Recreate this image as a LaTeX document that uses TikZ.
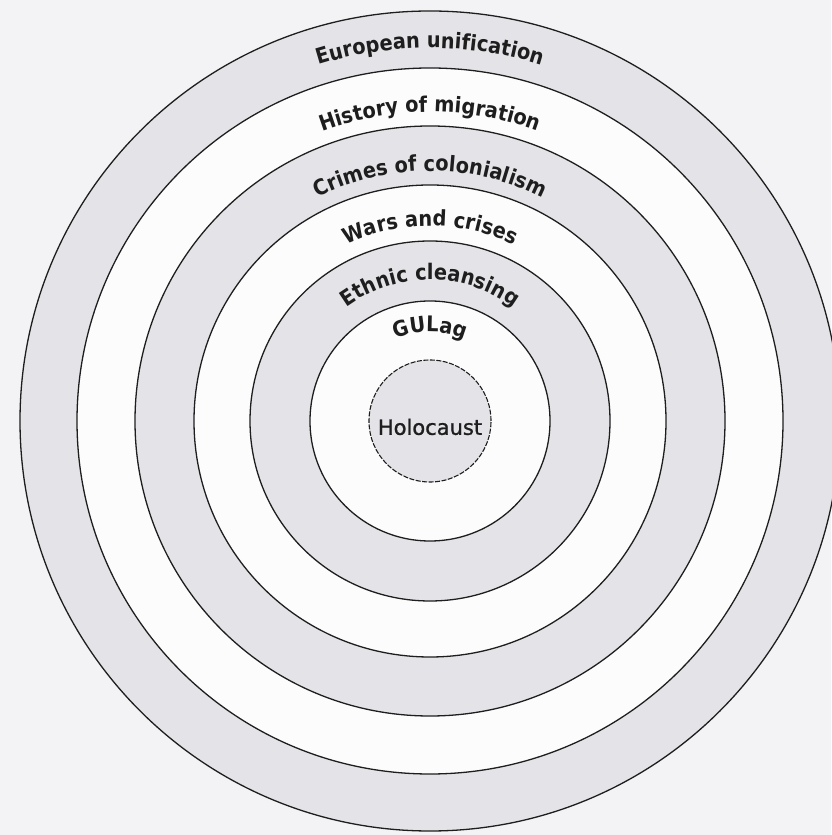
\documentclass[tikz,border=0pt]{standalone}
\usepackage{fontspec}
\setmainfont{DejaVu Sans}
\newfontfamily\ringfam{DejaVu Sans}[FakeStretch=0.9]
\newfontfamily\holofam{DejaVu Sans}[FakeBold=1.2]
\usetikzlibrary{decorations.text}
\definecolor{bandgray}{HTML}{E4E4E8}
\definecolor{paper}{HTML}{F3F3F5}
\definecolor{whiteband}{HTML}{FCFCFC}
\definecolor{ink}{HTML}{1E1E1E}
\newcommand\ringfont{\ringfam\fontsize{21.5}{24}\selectfont\bfseries\color{ink}}
\begin{document}
\begin{tikzpicture}[x=1pt,y=1pt,
  ringline/.style={draw=ink, line width=1.3pt},
  innerline/.style={draw=ink, line width=1.1pt, dash pattern=on 5pt off 1.5pt},
  arclabel/.style={decorate, decoration={text along path, text align=center}}]
\fill[paper] (0,0) rectangle (831,835);
\useasboundingbox (0,0) rectangle (831,835);
\coordinate (c) at (430,414);
% bands, from outside in
\fill[bandgray]  (c) circle[radius=410];
\fill[whiteband] (c) circle[radius=353];
\fill[bandgray]  (c) circle[radius=295];
\fill[whiteband] (c) circle[radius=236];
\fill[bandgray]  (c) circle[radius=180];
\fill[whiteband] (c) circle[radius=120];
\fill[bandgray]  (c) circle[radius=61];
\foreach \r in {410,353,295,236,180,120}
  \draw[ringline] (c) circle[radius=\r];
\draw[innerline] (c) circle[radius=61];
% curved labels
\path[arclabel, decoration={text={|\ringfont|European unification}}]
  ([shift={(180:373)}]c) arc[start angle=180, end angle=0, radius=373];
\path[arclabel, decoration={text={|\ringfont|History of migration}}]
  ([shift={(180:309)}]c) arc[start angle=180, end angle=0, radius=309];
\path[arclabel, decoration={text={|\ringfont|Crimes of colonialism}}]
  ([shift={(180:250)}]c) arc[start angle=180, end angle=0, radius=250];
\path[arclabel, decoration={text={|\ringfont|Wars and crises}}]
  ([shift={(180:195)}]c) arc[start angle=180, end angle=0, radius=195];
\path[arclabel, decoration={text={|\ringfont|Ethnic cleansing}}]
  ([shift={(180:141)}]c) arc[start angle=180, end angle=0, radius=141];
\path[arclabel, decoration={text={|\ringfont|GULag}}]
  ([shift={(180:89)}]c) arc[start angle=180, end angle=0, radius=89];
\node[text=ink, font=\holofam\fontsize{21}{24}\selectfont] (holo) at ([yshift=-6]c) {Holocaust};
\end{tikzpicture}
\end{document}
